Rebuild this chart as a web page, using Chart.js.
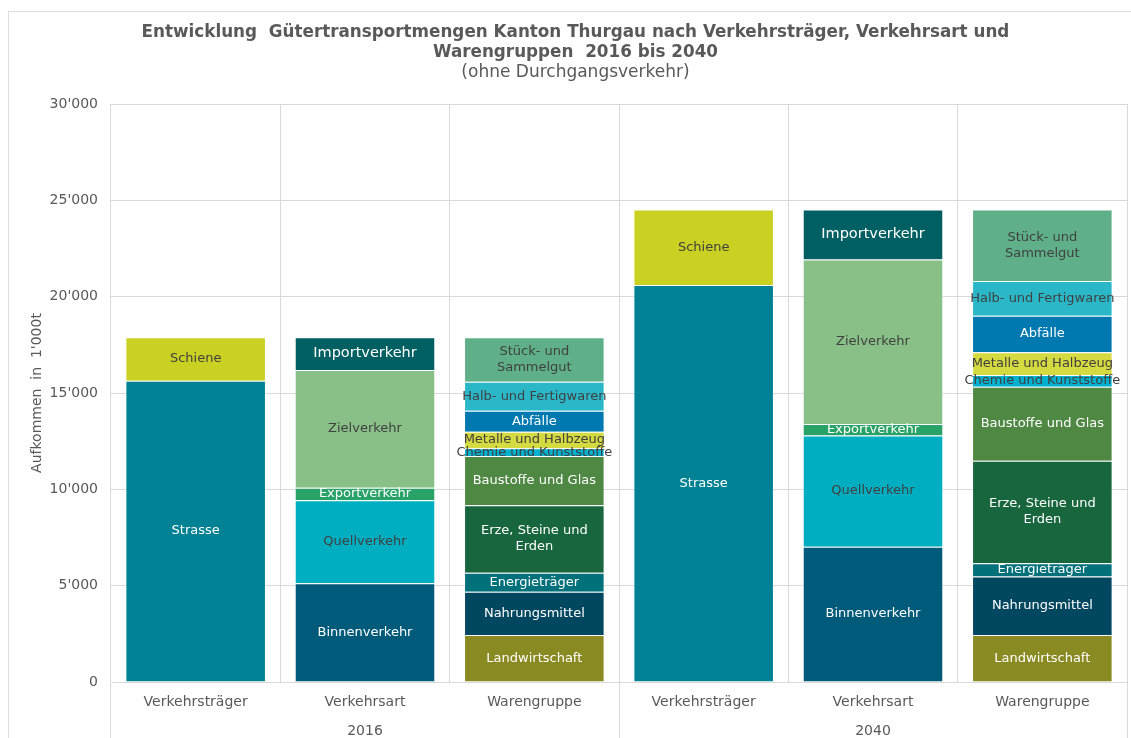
<!DOCTYPE html>
<html>
<head>
<meta charset="utf-8">
<script src="https://cdn.jsdelivr.net/npm/chart.js@4/dist/chart.umd.min.js"></script>
<style>
  html, body { margin: 0; padding: 0; background: #ffffff; }
  #wrap { width: 1131px; height: 738px; }
</style>
</head>
<body>
<div id="wrap"><canvas id="chart" width="1131" height="738"></canvas></div>
<script>
// Categories on the x axis: three breakdowns per year
const categories = ['Verkehrsträger', 'Verkehrsart', 'Warengruppe', 'Verkehrsträger', 'Verkehrsart', 'Warengruppe'];
const years = ['2016', '2040'];
const yTicks = [0, 5000, 10000, 15000, 20000, 25000, 30000];

// Verkehrsträger [2016, 2040] in 1'000 t
const strasse = [15640, 20600];
const schiene = [2250, 3930];

// Verkehrsart [2016, 2040]
const binnenverkehr = [5120, 7020];
const quellverkehr = [4310, 5780];
const exportverkehr = [650, 590];
const zielverkehr = [6110, 8540];
const importverkehr = [1700, 2600];

// Warengruppen [2016, 2040]
const landwirtschaft = [2440, 2440];
const nahrungsmittel = [2250, 3030];
const energietraeger = [980, 690];
const erzeSteineErden = [3500, 5330];
const baustoffeGlas = [2560, 3830];
const chemieKunststoffe = [400, 610];
const metalleHalbzeug = [860, 1180];
const abfaelle = [1090, 1900];
const halbFertigwaren = [1500, 1800];
const stueckSammelgut = [2310, 3720];

// Spread a [2016, 2040] pair onto the six category slots
function place(slot, pair) {
  const out = [null, null, null, null, null, null];
  out[slot] = pair[0];
  out[slot + 3] = pair[1];
  return out;
}

const DARK = '#404040';
const LIGHT = '#ffffff';

const series = [
  { label: 'Strasse', slot: 0, values: strasse, color: '#008194', text: LIGHT },
  { label: 'Schiene', slot: 0, values: schiene, color: '#cad122', text: DARK },
  { label: 'Binnenverkehr', slot: 1, values: binnenverkehr, color: '#005a7a', text: LIGHT },
  { label: 'Quellverkehr', slot: 1, values: quellverkehr, color: '#00aec1', text: DARK },
  { label: 'Exportverkehr', slot: 1, values: exportverkehr, color: '#28a266', text: LIGHT },
  { label: 'Zielverkehr', slot: 1, values: zielverkehr, color: '#88c087', text: DARK },
  { label: 'Importverkehr', slot: 1, values: importverkehr, color: '#005f62', text: LIGHT, size: 14.5 },
  { label: 'Landwirtschaft', slot: 2, values: landwirtschaft, color: '#8a8a23', text: LIGHT },
  { label: 'Nahrungsmittel', slot: 2, values: nahrungsmittel, color: '#00475f', text: LIGHT },
  { label: 'Energieträger', slot: 2, values: energietraeger, color: '#00707b', text: LIGHT },
  { label: 'Erze, Steine und\nErden', slot: 2, values: erzeSteineErden, color: '#18663e', text: LIGHT },
  { label: 'Baustoffe und Glas', slot: 2, values: baustoffeGlas, color: '#4e8842', text: LIGHT },
  { label: 'Chemie und Kunststoffe', slot: 2, values: chemieKunststoffe, color: '#00b1cf', text: DARK },
  { label: 'Metalle und Halbzeug', slot: 2, values: metalleHalbzeug, color: '#d4da3f', text: DARK },
  { label: 'Abfälle', slot: 2, values: abfaelle, color: '#0079b1', text: LIGHT },
  { label: 'Halb- und Fertigwaren', slot: 2, values: halbFertigwaren, color: '#2ab8c9', text: DARK },
  { label: 'Stück- und\nSammelgut', slot: 2, values: stueckSammelgut, color: '#5fb088', text: DARK }
];

const GRID = '#d9d9d9';
const AXIS_TEXT = '#595959';
const FONT = "'DejaVu Sans', Verdana, sans-serif";
Chart.defaults.font.family = FONT;

// Light frame around the whole chart
const framePlugin = {
  id: 'frame',
  beforeDraw(chart) {
    const c = chart.ctx;
    c.save();
    c.fillStyle = '#ffffff';
    c.fillRect(0, 0, chart.width, chart.height);
    c.strokeStyle = '#dedede';
    c.lineWidth = 1;
    c.strokeRect(8.5, 11.5, chart.width + 20, chart.height + 20);
    c.restore();
  }
};

// Segment names written in the middle of every stacked piece
const segmentLabels = {
  id: 'segmentLabels',
  afterDatasetsDraw(chart) {
    const c = chart.ctx;
    c.save();
    c.textAlign = 'center';
    c.textBaseline = 'middle';
    chart.data.datasets.forEach((ds, di) => {
      const meta = chart.getDatasetMeta(di);
      meta.data.forEach((el, i) => {
        if (ds.data[i] == null) return;
        const p = el.getProps(['x', 'y', 'base'], true);
        const cy = (p.y + p.base) / 2;
        const lines = ds.label.split('\n');
        const lh = 16;
        c.fillStyle = ds.textColor;
        c.font = (ds.labelSize || 13) + 'px ' + FONT;
        lines.forEach((ln, k) => {
          c.fillText(ln, p.x, cy + (k - (lines.length - 1) / 2) * lh);
        });
      });
    });
    c.restore();
  }
};

const datasets = series.map(s => ({
  label: s.label,
  data: place(s.slot, s.values),
  backgroundColor: s.color,
  borderColor: 'rgba(255,255,255,0.35)',
  borderWidth: 1,
  textColor: s.text,
  labelSize: s.size,
  barPercentage: 0.83,
  categoryPercentage: 1.0,
  xAxisID: 'x',
  yAxisID: 'y'
}));

new Chart(document.getElementById('chart'), {
  type: 'bar',
  data: { labels: categories, datasets },
  plugins: [framePlugin, segmentLabels],
  options: {
    responsive: false,
    animation: false,
    devicePixelRatio: 1,
    layout: { padding: { left: 24, right: 4, top: 0, bottom: 0 } },
    plugins: {
      legend: { display: false },
      tooltip: { enabled: false },
      title: {
        display: true,
        text: ['Entwicklung  Gütertransportmengen Kanton Thurgau nach Verkehrsträger, Verkehrsart und',
               'Warengruppen  2016 bis 2040'],
        color: AXIS_TEXT,
        font: { family: FONT, size: 16.8, weight: 'bold', lineHeight: 20 / 16.8 },
        padding: { top: 23, bottom: 0 }
      },
      subtitle: {
        display: true,
        text: '(ohne Durchgangsverkehr)',
        color: AXIS_TEXT,
        font: { family: FONT, size: 17, weight: 'normal', lineHeight: 20 / 17 },
        padding: { top: 0, bottom: 21 }
      }
    },
    scales: {
      x: {
        stacked: true,
        offset: true,
        grid: {
          offset: true,
          color: GRID,
          lineWidth: 1,
          drawTicks: true,
          tickLength: 56,
          tickColor: ctx => (ctx.index === undefined || ctx.index % 3 === 0) ? GRID : 'rgba(0,0,0,0)'
        },
        border: { display: true, color: GRID },
        ticks: { color: AXIS_TEXT, font: { size: 14 }, padding: -44.4, maxRotation: 0, autoSkip: false },
        afterFit(scale) { scale.height = 36; }
      },
      x2: {
        type: 'category',
        labels: years,
        position: 'bottom',
        offset: true,
        grid: { display: false },
        border: { display: false },
        ticks: { color: AXIS_TEXT, font: { size: 14 }, padding: -3.4, maxRotation: 0 },
        afterFit(scale) { scale.height = 20; }
      },
      y: {
        stacked: true,
        min: 0,
        max: 30000,
        afterBuildTicks(scale) { scale.ticks = yTicks.map(v => ({ value: v })); },
        ticks: {
          color: AXIS_TEXT,
          font: { size: 14 },
          padding: 13,
          callback: v => String(v).replace(/\B(?=(\d{3})+(?!\d))/g, "'")
        },
        grid: { color: GRID, drawTicks: false },
        border: { display: false },
        title: {
          display: true,
          text: "Aufkommen  in  1'000t",
          color: AXIS_TEXT,
          font: { size: 14 },
          padding: { top: 4.6, bottom: 0 }
        },
        afterFit(scale) { scale.width = 111 - 24; }
      }
    }
  }
});
</script>
</body>
</html>
